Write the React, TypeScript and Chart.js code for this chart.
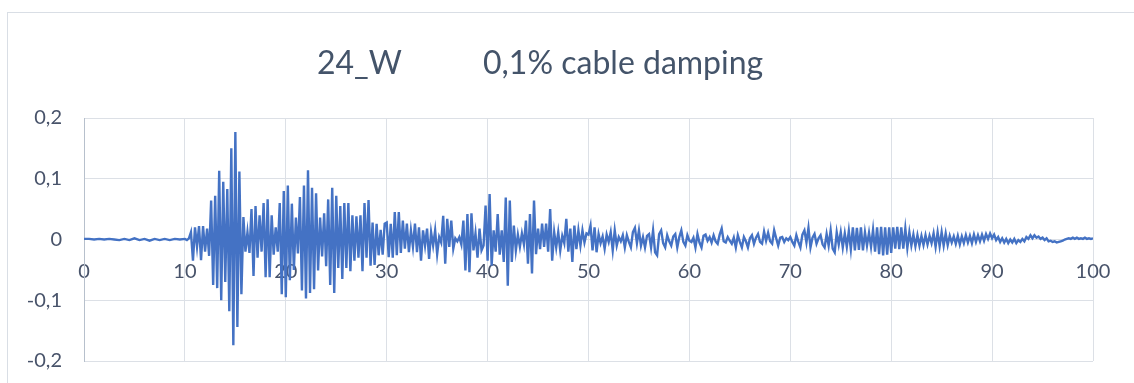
import React, { useEffect, useRef } from 'react';
import { Chart, registerables } from 'chart.js';

Chart.register(...registerables);

// ---- text ----
const titleLeft = '24_W';
const titleRight = '0,1% cable damping';
const xTickLabels = ['0', '10', '20', '30', '40', '50', '60', '70', '80', '90', '100'];
const yTickLabels = ['-0,2', '-0,1', '0', '0,1', '0,2'];

// ---- series values ----
// 0 – 10 s, one value every 0.5 s
const seg00 = [0.001, 0.001, 0.0, 0.001, 0.0, 0.001, 0.0, -0.001, 0.001, -0.001,
  0.002, -0.001, 0.001, -0.002, 0.001, -0.001, 0.001, -0.001, 0.001, 0.0];
// from 10 s on, one value every 0.2 s
const seg10 = [0.001, -0.001, 0.002, 0.012, -0.035, 0.02, -0.012, 0.022, -0.034, 0.022,
  -0.02, 0.018, -0.027, 0.064, -0.075, 0.072, -0.08, 0.113, -0.1, 0.095,
  -0.07, 0.083, -0.118, 0.15, -0.174, 0.177, -0.144, 0.112, -0.09, 0.037,
  -0.02, 0.012, -0.022, 0.05, -0.06, 0.055, -0.03, 0.04, -0.02, 0.06,
  -0.062, 0.066, -0.062, 0.04, -0.025, 0.02, -0.02, 0.06, -0.09, 0.08];
const seg20 = [-0.095, 0.089, -0.067, 0.059, -0.05, 0.036, -0.023, 0.07, -0.084, 0.089,
  -0.097, 0.114, -0.088, 0.085, -0.082, 0.076, -0.051, 0.036, -0.028, 0.043,
  -0.044, 0.066, -0.075, 0.085, -0.088, 0.072, -0.047, 0.055, -0.065, 0.06,
  -0.047, 0.06, -0.052, 0.04, -0.035, 0.038, -0.03, 0.04, -0.052, 0.06,
  -0.03, 0.065, -0.043, 0.028, -0.042, 0.026, -0.026, 0.016, -0.025, 0.026];
const seg30 = [0.028, -0.029, 0.026, -0.03, 0.045, -0.026, 0.045, -0.022, 0.031, -0.015,
  0.026, -0.021, 0.015, -0.012, 0.026, -0.021, 0.02, -0.035, 0.015, -0.01,
  0.018, -0.032, 0.012, -0.01, 0.015, -0.024, 0.004, -0.005, 0.039, -0.04,
  0.034, -0.012, 0.031, -0.015, 0.002, -0.003, 0.004, -0.008, 0.031, -0.051,
  0.042, -0.054, 0.043, -0.018, 0.01, -0.03, 0.018, -0.018, -0.01, 0.056];
const seg40 = [-0.035, 0.075, -0.043, 0.015, -0.02, 0.042, -0.025, 0.015, -0.037, 0.069,
  -0.076, 0.064, -0.037, 0.023, -0.018, 0.008, -0.012, 0.01, -0.008, 0.031,
  -0.04, 0.042, -0.056, 0.064, -0.024, 0.018, -0.016, 0.026, -0.012, 0.026,
  -0.02, 0.05, -0.035, 0.012, -0.013, 0.012, -0.018, 0.006, -0.006, 0.034,
  -0.02, 0.018, -0.037, 0.023, -0.016, 0.015, -0.01, 0.015, -0.005, 0.01];
const seg50 = [0.008, 0.023, -0.018, 0.02, -0.021, 0.009, -0.006, 0.005, -0.015, 0.008,
  -0.004, 0.012, -0.018, 0.015, -0.01, 0.004, -0.003, 0.007, -0.013, 0.007,
  -0.004, -0.013, 0.012, 0.019, -0.006, 0.015, -0.01, 0.004, -0.013, 0.006,
  0.009, -0.013, 0.015, -0.021, -0.026, 0.009, 0.015, -0.006, -0.013, 0.007,
  -0.003, -0.01, 0.005, 0.009, -0.013, 0.004, 0.015, -0.004, -0.01, 0.007];
const seg60 = [-0.002, -0.004, 0.003, -0.013, 0.009, -0.005, -0.013, 0.006, 0.008, -0.002,
  0.004, -0.005, 0.007, -0.003, -0.007, 0.008, 0.018, -0.003, -0.005, 0.004,
  -0.002, -0.007, 0.003, -0.013, 0.007, -0.004, -0.013, 0.004, -0.003, -0.013,
  0.002, 0.007, -0.007, 0.003, 0.009, -0.004, -0.007, 0.013, -0.002, 0.011,
  -0.003, -0.007, 0.015, 0.002, -0.01, 0.003, 0.004, -0.004, 0.002, -0.001];
const seg70 = [0.004, -0.004, -0.01, 0.007, -0.004, -0.013, 0.008, 0.015, -0.005, 0.019,
  -0.013, 0.003, 0.009, -0.007, 0.002, 0.007, -0.008, -0.013, 0.009, -0.01,
  0.015, -0.015, -0.021, 0.012, -0.008, 0.012, -0.013, 0.01, -0.012, 0.014,
  -0.016, 0.02, -0.018, 0.019, -0.017, 0.02, -0.018, 0.012, -0.01, 0.011,
  -0.012, 0.016, -0.02, 0.02, -0.024, 0.021, -0.026, 0.02, -0.025, 0.02];
const seg80 = [-0.022, 0.02, -0.015, 0.021, -0.016, 0.02, -0.015, 0.018, -0.014, 0.012,
  -0.01, 0.008, -0.011, 0.007, -0.01, 0.006, -0.009, 0.007, -0.008, 0.006,
  -0.006, 0.01, -0.012, 0.012, -0.011, 0.012, -0.01, 0.01, -0.009, 0.006,
  -0.005, 0.005, -0.007, 0.006, -0.008, 0.005, -0.006, 0.007, -0.005, 0.006,
  -0.006, 0.008, -0.004, 0.007, -0.003, 0.008, -0.002, 0.009, 0.001, 0.01];
const seg90 = [0.002, 0.008, -0.001, 0.004, -0.004, 0.002, -0.005, 0.001, -0.006, 0.0,
  -0.005, 0.001, -0.006, -0.001, -0.004, 0.001, -0.003, 0.004, 0.001, 0.007,
  0.002, 0.007, 0.003, 0.005, 0.001, 0.003, -0.001, 0.002, -0.003, -0.002,
  -0.004, -0.003, -0.005, -0.004, -0.003, -0.002, 0.0, 0.001, 0.002, 0.001,
  0.003, 0.001, 0.003, 0.001, 0.002, 0.001, 0.003, 0.001, 0.002, 0.001, 0.002];

// segment start times (s) and sampling steps (s)
const segStarts = [0, 10, 20, 30, 40, 50, 60, 70, 80, 90];
const segSteps = [0.5, 0.2, 0.2, 0.2, 0.2, 0.2, 0.2, 0.2, 0.2, 0.2];
const segValues = [seg00, seg10, seg20, seg30, seg40, seg50, seg60, seg70, seg80, seg90];

const lineColor = '#4472C4';
const gridColor = '#dce0e6';
const axisColor = '#b7c0cc';
const textColor = '#44546A';
const tickColor = '#48536a';
const fontFamily = 'Lato, "Open Sans", sans-serif';

const CANVAS_W = 1134;
const CANVAS_H = 395;

export default function App() {
  const canvasRef = useRef<HTMLCanvasElement | null>(null);

  useEffect(() => {
    const canvas = canvasRef.current;
    if (!canvas) return;

    const points = segValues.flatMap((vals, s) =>
      vals.map((v, i) => ({ x: Math.round((segStarts[s] + i * segSteps[s]) * 100) / 100, y: v }))
    );

    const titlePlugin = {
      id: 'splitTitle',
      afterDraw(chart: any) {
        const ctx = chart.ctx;
        ctx.save();
        ctx.fillStyle = textColor;
        ctx.textBaseline = 'alphabetic';
        ctx.textAlign = 'left';
        ctx.font = `32px ${fontFamily}`;
        ctx.fillText(titleLeft, 317, 74);
        ctx.fillText(titleRight, 483, 74);
        ctx.restore();
      },
    };

    const chart = new Chart(canvas, {
      type: 'line',
      data: {
        datasets: [
          {
            data: points,
            borderColor: lineColor,
            backgroundColor: lineColor,
            borderWidth: 2.4,
            pointRadius: 0,
            tension: 0,
            fill: false,
          },
        ],
      },
      options: {
        animation: false,
        responsive: false,
        maintainAspectRatio: false,
        layout: { padding: { top: 118, bottom: 10, left: 0, right: 41 } },
        plugins: {
          legend: { display: false },
          tooltip: { enabled: false },
          title: { display: false },
        },
        scales: {
          x: {
            type: 'linear',
            min: 0,
            max: 100,
            position: { y: 0 } as any,
            grid: {
              color: (ctx: any) => (ctx.tick && ctx.tick.value === 0 ? axisColor : gridColor),
              drawTicks: false,
              lineWidth: 1,
            },
            border: { display: false },
            ticks: {
              stepSize: 10,
              padding: 20,
              color: tickColor,
              font: { family: fontFamily, size: 20 },
              maxRotation: 0,
              callback: (_v: any, i: number) => xTickLabels[i],
            },
          },
          y: {
            type: 'linear',
            min: -0.2,
            max: 0.2,
            grid: { color: gridColor, drawTicks: false, lineWidth: 1 },
            border: { display: true, color: axisColor, width: 1 },
            ticks: {
              stepSize: 0.1,
              padding: 22,
              color: tickColor,
              font: { family: fontFamily, size: 20 },
              callback: (_v: any, i: number) => yTickLabels[i],
            },
            afterFit: (scale: any) => {
              scale.width = 84;
            },
          },
        },
      },
      plugins: [titlePlugin],
    });

    return () => chart.destroy();
  }, []);

  return (
    <div
      style={{
        position: 'fixed',
        left: 0,
        top: 0,
        width: 1134,
        height: 383,
        overflow: 'hidden',
        background: '#ffffff',
      }}
    >
      <div
        style={{
          position: 'absolute',
          left: 7,
          top: 12,
          width: 1200,
          height: 420,
          border: '1px solid #d9dee5',
          boxSizing: 'border-box',
        }}
      />
      <canvas
        ref={canvasRef}
        width={CANVAS_W}
        height={CANVAS_H}
        style={{ position: 'absolute', left: 0, top: 0, width: CANVAS_W, height: CANVAS_H }}
      />
    </div>
  );
}
